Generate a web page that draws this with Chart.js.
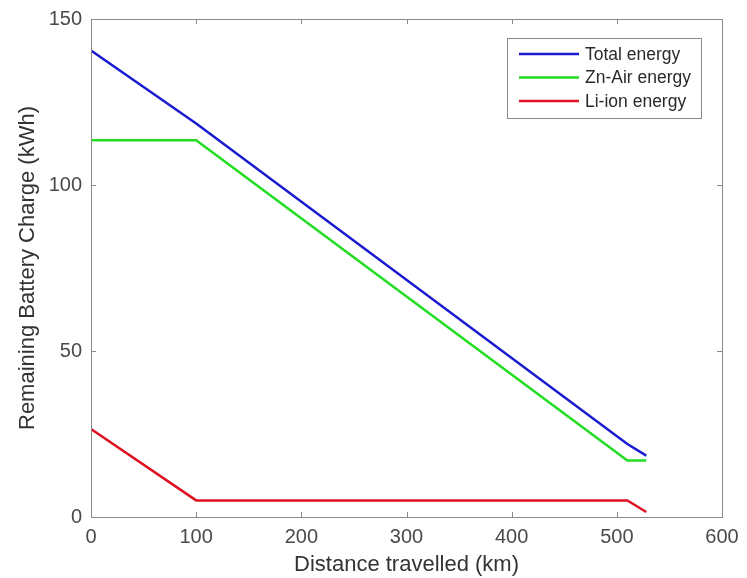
<!DOCTYPE html>
<html><head><meta charset="utf-8">
<script src="https://cdn.jsdelivr.net/npm/chart.js@4/dist/chart.umd.min.js"></script>
<style>html,body{margin:0;padding:0;background:#fff;}#wrap{width:747px;height:578px;}</style>
</head><body><div id="wrap"><canvas id="c" width="747" height="578"></canvas></div>
<script>
const distance = [0, 100, 510, 528];
const totalEnergy = [140.5, 118.5, 22, 18.5];
const znAirEnergy = [113.5, 113.5, 17, 17];
const liIonEnergy = [26.5, 5, 5, 1.5];
const xTicks = [0, 100, 200, 300, 400, 500, 600];
const yTicks = [0, 50, 100, 150];
const seriesNames = ['Total energy', 'Zn-Air energy', 'Li-ion energy'];
const seriesColors = ['#1a1ad0', '#22dd22', '#dd1122'];

function pts(ys){ return distance.map((x,i)=>({x:x,y:ys[i]})); }

const FONT = '"Liberation Sans", Arial, sans-serif';
const tickColor = '#4a4a4a';

const boxAndTicks = {
  id:'boxAndTicks',
  afterDraw(chart){
    const ctx = chart.ctx, a = chart.chartArea, xs = chart.scales.x, ys = chart.scales.y;
    ctx.save();
    ctx.strokeStyle = '#8a8a8a'; ctx.lineWidth = 1;
    ctx.strokeRect(Math.round(a.left)+0.5, Math.round(a.top)+0.5, Math.round(a.right-a.left), Math.round(a.bottom-a.top));
    ctx.beginPath();
    const L = 5;
    xTicks.forEach(v=>{ const px = Math.round(xs.getPixelForValue(v))+0.5;
      ctx.moveTo(px, a.bottom); ctx.lineTo(px, a.bottom-L);
      ctx.moveTo(px, a.top); ctx.lineTo(px, a.top+L); });
    yTicks.forEach(v=>{ const py = Math.round(ys.getPixelForValue(v))+0.5;
      ctx.moveTo(a.left, py); ctx.lineTo(a.left+L, py);
      ctx.moveTo(a.right, py); ctx.lineTo(a.right-L, py); });
    ctx.stroke();
    // legend
    const bx = 507, by = 38, bw = 194, bh = 80;
    ctx.fillStyle = '#fff'; ctx.fillRect(bx, by, bw, bh);
    ctx.strokeStyle = '#8a8a8a'; ctx.strokeRect(bx+0.5, by+0.5, bw, bh);
    ctx.font = '17.5px ' + FONT; ctx.textBaseline = 'middle'; ctx.textAlign = 'left';
    chart.data.datasets.forEach((d,i)=>{
      const y = 54 + i*23.5;
      ctx.strokeStyle = d.borderColor; ctx.lineWidth = 2.5;
      ctx.beginPath(); ctx.moveTo(519, y); ctx.lineTo(579, y); ctx.stroke();
      ctx.fillStyle = '#2a2a2a'; ctx.fillText(d.label, 585, y+1);
    });
    ctx.restore();
  }
};

new Chart(document.getElementById('c'), {
  type:'scatter',
  data:{ datasets:[
    {label:seriesNames[0], data:pts(totalEnergy), borderColor:seriesColors[0]},
    {label:seriesNames[1], data:pts(znAirEnergy), borderColor:seriesColors[1]},
    {label:seriesNames[2], data:pts(liIonEnergy), borderColor:seriesColors[2]}
  ].map(d=>Object.assign(d,{showLine:true, pointRadius:0, borderWidth:2.5, tension:0, fill:false}))},
  plugins:[boxAndTicks],
  options:{
    responsive:false, animation:false, devicePixelRatio:1,
    layout:{padding:{top:19, right:25, left:0, bottom:0}},
    plugins:{legend:{display:false}, tooltip:{enabled:false}},
    scales:{
      x:{type:'linear', min:0, max:600,
        afterBuildTicks(s){ s.ticks = xTicks.map(v=>({value:v})); },
        afterFit(s){ s.height = 61; s.paddingLeft = 0; s.paddingRight = 0; },
        grid:{display:false, drawTicks:false}, border:{display:false},
        ticks:{color:tickColor, font:{family:FONT, size:20}, padding:8, maxRotation:0},
        title:{display:true, text:'Distance travelled (km)', color:'#333', font:{family:FONT, size:22}, padding:{top:0, bottom:0}}
      },
      y:{type:'linear', min:0, max:150,
        afterBuildTicks(s){ s.ticks = yTicks.map(v=>({value:v})); },
        afterFit(s){ s.width = 91; s.paddingTop = 0; s.paddingBottom = 0; },
        grid:{display:false, drawTicks:false}, border:{display:false},
        ticks:{color:tickColor, font:{family:FONT, size:20}, padding:9},
        title:{display:true, text:'Remaining Battery Charge (kWh)', color:'#333', font:{family:FONT, size:22}, padding:{top:15, bottom:0}}
      }
    }
  }
});
</script></body></html>
